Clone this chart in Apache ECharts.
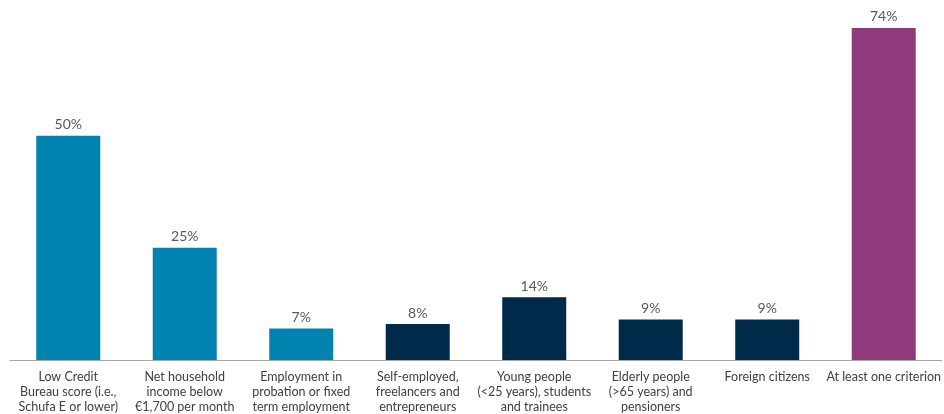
<!DOCTYPE html>
<html>
<head>
<meta charset="utf-8">
<script src="https://cdn.jsdelivr.net/npm/echarts@6/dist/echarts.min.js"></script>
<style>
  html, body { margin: 0; padding: 0; background: #fff; }
  #chart { width: 944px; height: 414px; }
</style>
</head>
<body>
<div id="chart"></div>
<script>
// categories and values
const categories = [
    "Low Credit\nBureau score (i.e.,\nSchufa E or lower)",
    "Net household\nincome below\n€1,700 per month",
    "Employment in\nprobation or fixed\nterm employment",
    "Self-employed,\nfreelancers and\nentrepreneurs",
    "Young people\n(<25 years), students\nand trainees",
    "Elderly people\n(>65 years) and\npensioners",
    "Foreign citizens",
    "At least one criterion"
];
const shares = [50, 25, 7, 8, 14, 9, 9, 74];
const groups = ["fin", "fin", "fin", "soc", "soc", "soc", "soc", "any"];

const groupColor = {
    fin: "#0083AE",
    soc: "#002A4A",
    any: "#8E3A7D"
};

const chart = echarts.init(document.getElementById("chart"));

const option = {
    animation: false,
    grid: { left: 10, right: 1, top: 1, bottom: 53 },
    xAxis: {
        type: "category",
        data: categories,
        axisLine: { lineStyle: { color: "#A6A6A6", width: 1 } },
        axisTick: { show: false },
        axisLabel: {
            interval: 0,
            color: "#404040",
            fontFamily: "Lato",
            fontSize: 12.5,
            lineHeight: 15,
            margin: 9
        }
    },
    yAxis: {
        type: "value",
        min: 0,
        max: 80,
        show: false,
        splitLine: { show: false }
    },
    series: [
        {
            type: "bar",
            barWidth: 64,
            data: shares.map((v, i) => ({
                value: v,
                itemStyle: { color: groupColor[groups[i]] }
            })),
            label: {
                show: true,
                position: "top",
                distance: 4,
                formatter: "{c}%",
                color: "#595959",
                fontFamily: "Lato",
                fontSize: 14
            }
        }
    ]
};

chart.setOption(option);
</script>
</body>
</html>
